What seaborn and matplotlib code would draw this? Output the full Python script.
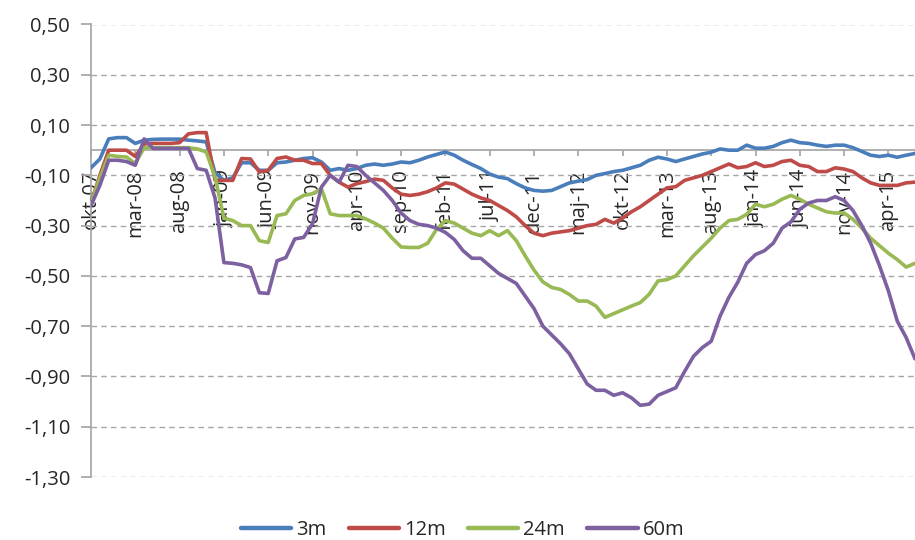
import pandas as pd
import numpy as np
import matplotlib
matplotlib.use("Agg")
import matplotlib.pyplot as plt
import seaborn as sns

# danske maanedsforkortelser, okt-07 .. jul-15 (94 maaneder)
month_names = ["jan", "feb", "mar", "apr", "maj", "jun",
               "jul", "aug", "sep", "okt", "nov", "dec"]
months = []
for year in range(2007, 2016):
    for m, name in enumerate(month_names):
        if (year == 2007 and m < 9) or (year == 2015 and m > 6):
            continue
        months.append(f"{name}-{str(year)[2:]}")

s3m = [-0.07, -0.035, 0.045, 0.05, 0.05, 0.027, 0.04, 0.043, 0.044, 0.044,
       0.044, 0.04, 0.037, 0.033, -0.09, -0.12, -0.11, -0.05, -0.05, -0.08,
       -0.08, -0.05, -0.047, -0.04, -0.033, -0.03, -0.047, -0.08, -0.073, -0.08,
       -0.073, -0.06, -0.055, -0.06, -0.055, -0.047, -0.05, -0.04, -0.027, -0.017,
       -0.007, -0.02, -0.04, -0.057, -0.073, -0.095, -0.107, -0.113, -0.133, -0.15,
       -0.16, -0.163, -0.16, -0.145, -0.13, -0.123, -0.117, -0.1, -0.093, -0.085,
       -0.08, -0.07, -0.06, -0.04, -0.028, -0.035, -0.045, -0.035, -0.025, -0.015,
       -0.008, 0.005, 0.0, 0.0, 0.02, 0.008, 0.008, 0.015, 0.03, 0.04,
       0.03, 0.027, 0.02, 0.015, 0.02, 0.02, 0.01, -0.005, -0.02, -0.025,
       -0.02, -0.028, -0.02, -0.013]

s12m = [-0.21, -0.1, 0.0, 0.0, 0.0, -0.025, 0.025, 0.027, 0.027, 0.027,
        0.03, 0.065, 0.07, 0.07, -0.12, -0.12, -0.12, -0.033, -0.035, -0.087,
        -0.08, -0.033, -0.027, -0.04, -0.04, -0.053, -0.053, -0.1, -0.127, -0.147,
        -0.133, -0.125, -0.115, -0.12, -0.15, -0.175, -0.18, -0.175, -0.165, -0.15,
        -0.13, -0.135, -0.155, -0.175, -0.19, -0.2, -0.22, -0.24, -0.265, -0.3,
        -0.33, -0.34, -0.33, -0.325, -0.32, -0.31, -0.3, -0.295, -0.275, -0.29,
        -0.27, -0.245, -0.225, -0.2, -0.175, -0.15, -0.145, -0.12, -0.11, -0.1,
        -0.085, -0.07, -0.055, -0.07, -0.065, -0.05, -0.065, -0.06, -0.045, -0.04,
        -0.06, -0.065, -0.085, -0.085, -0.07, -0.075, -0.085, -0.11, -0.13, -0.14,
        -0.14, -0.14, -0.13, -0.127]

s24m = [-0.21, -0.11, -0.02, -0.025, -0.027, -0.053, 0.01, 0.01, 0.01, 0.01,
        0.01, 0.01, 0.005, -0.007, -0.107, -0.27, -0.28, -0.3, -0.3, -0.36,
        -0.367, -0.26, -0.253, -0.2, -0.18, -0.173, -0.153, -0.253, -0.26, -0.26,
        -0.26, -0.273, -0.29, -0.31, -0.35, -0.385, -0.387, -0.387, -0.37, -0.315,
        -0.28, -0.29, -0.31, -0.33, -0.34, -0.32, -0.34, -0.32, -0.36, -0.42,
        -0.477, -0.524, -0.546, -0.554, -0.574, -0.6, -0.6, -0.62, -0.665, -0.65,
        -0.635, -0.62, -0.606, -0.573, -0.52, -0.515, -0.5, -0.46, -0.42, -0.385,
        -0.35, -0.31, -0.28, -0.275, -0.255, -0.215, -0.225, -0.215, -0.195, -0.18,
        -0.195, -0.215, -0.23, -0.245, -0.25, -0.25, -0.275, -0.31, -0.35, -0.38,
        -0.41, -0.435, -0.465, -0.45]

s60m = [-0.22, -0.14, -0.04, -0.04, -0.045, -0.06, 0.045, 0.007, 0.007, 0.007,
        0.007, 0.007, -0.073, -0.08, -0.19, -0.447, -0.45, -0.456, -0.467, -0.567,
        -0.57, -0.44, -0.427, -0.353, -0.347, -0.293, -0.147, -0.1, -0.127, -0.06,
        -0.065, -0.1, -0.13, -0.16, -0.2, -0.25, -0.28, -0.295, -0.3, -0.31,
        -0.327, -0.355, -0.4, -0.43, -0.43, -0.46, -0.49, -0.51, -0.53, -0.58,
        -0.63, -0.7, -0.735, -0.77, -0.81, -0.87, -0.93, -0.955, -0.955, -0.975,
        -0.965, -0.985, -1.015, -1.01, -0.975, -0.96, -0.945, -0.88, -0.82, -0.785,
        -0.76, -0.66, -0.585, -0.525, -0.45, -0.415, -0.4, -0.37, -0.31, -0.285,
        -0.235, -0.21, -0.2, -0.2, -0.185, -0.2, -0.24, -0.3, -0.37, -0.46,
        -0.56, -0.68, -0.745, -0.83]

series_names = ["3m", "12m", "24m", "60m"]
colors = ["#4A7EBB", "#BE4B48", "#98B954", "#7D60A0"]
y_ticks = [0.5, 0.3, 0.1, -0.1, -0.3, -0.5, -0.7, -0.9, -1.1, -1.3]

df = pd.DataFrame({"idx": np.arange(len(months)), "3m": s3m, "12m": s12m,
                   "24m": s24m, "60m": s60m})
long_df = df.melt(id_vars="idx", var_name="serie", value_name="value")

sns.set_theme(style="white")
plt.rcParams["font.family"] = ["Open Sans", "DejaVu Sans"]

fig = plt.figure(figsize=(9.15, 5.4), dpi=100)
ax = fig.add_axes([91 / 915, 63 / 540, 824 / 915, 452.5 / 540])

sns.lineplot(data=long_df, x="idx", y="value", hue="serie", hue_order=series_names,
             palette=colors, linewidth=2.6, ax=ax, zorder=3)

# flyt x-aksen op til 0 foer ticks saettes (set_position nulstiller ticks)
for side in ["top", "right"]:
    ax.spines[side].set_visible(False)
ax.spines["bottom"].set_position(("data", 0))
ax.spines["bottom"].set_color("#a6a6a6")
ax.spines["left"].set_color("#a6a6a6")

ax.set_xlim(0, len(months) - 1)
ax.set_ylim(-1.3, 0.5)
ax.set_yticks(y_ticks)
ax.set_yticklabels([f"{v:.2f}".replace(".", ",") for v in y_ticks])
ax.set_xticks(range(0, len(months), 5))
ax.set_xticklabels(months[::5])
ax.set_xlabel("")
ax.set_ylabel("")

ax.yaxis.grid(True, linestyle=(0, (4, 3)), color="#a6a6a6", linewidth=1)
ax.xaxis.grid(False)
ax.tick_params(axis="y", direction="out", length=7, color="#a6a6a6", pad=8, left=True,
               labelsize=14.5, labelcolor="#262626")
ax.tick_params(axis="x", direction="out", length=4, color="#a6a6a6", pad=10, bottom=True,
               labelsize=14.5, labelcolor="#262626", labelrotation=90)

sns.move_legend(ax, "center", bbox_to_anchor=(0.451, -0.117), ncol=4, frameon=False,
                title=None, fontsize=14.5, handlelength=2.5, columnspacing=1.1, handletextpad=0.25)
for line in ax.get_legend().get_lines():
    line.set_linewidth(3.2)

fig.savefig("out.png", dpi=100)
